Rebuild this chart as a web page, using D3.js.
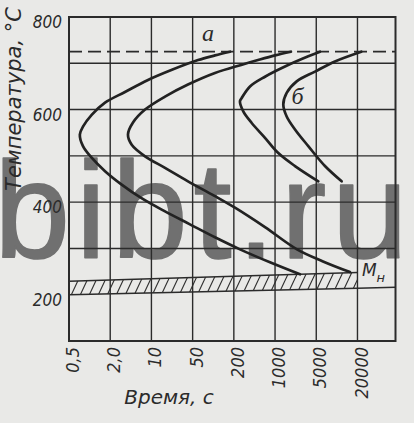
<!DOCTYPE html>
<html><head><meta charset="utf-8">
<script src="https://cdn.jsdelivr.net/npm/d3@7"></script>
<style>
html,body{margin:0;padding:0;background:#e9e9e7;}
svg{display:block;}
</style></head><body>
<svg id="chart" width="414" height="423"></svg>
<script>
// ---- data ----
const timeTicks = [0.5, 2, 10, 50, 200, 1000, 5000, 20000];
const timeTickLabels = ["0,5", "2,0", "10", "50", "200", "1000", "5000", "20000"];
const timeEnd = 80000;
const tempDomain = [100, 800];
const tempTickValues = [800, 600, 400, 200];
const tempGridValues = [700, 600, 500, 400, 300];
const a1Temp = 725;
// isothermal transformation curves: [time, temperature]
const curveA1 = [[176,725],[106,717],[60,707],[22.3,686],[8.75,664],[3.56,638],[1.68,615],[1.08,589],[0.80,563],[0.72,546],[0.80,521],[1.07,496],[1.68,467],[3.13,438],[6.9,408],[17,380],[45,352],[106,324],[254,298],[820,270],[2650,244]];
const curveA2 = [[1860,725],[997,717],[514,707],[275,697],[106,679],[41.7,654],[17,628],[7.8,600],[4.87,572],[4.0,546],[4.63,524],[7.8,499],[17,474],[41.7,445],[106,413],[209,388],[675,346],[2354,298],[6270,272],[15540,249]];
const curveB1 = [[5665,725],[3660,715],[1474,693],[675,671],[376,650],[272,625],[254,618],[289,596],[402,571],[675,539],[1134,506],[2179,478],[5352,445]];
const curveB2 = [[23000,725],[9380,704],[4757,682],[2328,661],[1575,636],[1380,611],[1575,585],[2179,557],[3660,521],[6700,478],[11745,445]];
// martensite start band (Mн)
const msTop = [[0.5, 229], [20000, 248]];
const msBottom = [[0.5, 200], [20000, 214], [80000, 216]];
// labels
const curveLabels = ["а", "б"];
const curveLabelTimes = [84, 2400];
const curveLabelTemps = [748, 611];
const msLabel = ["М", "н"];
const msLabelTime = 23500;
const msLabelTemp = 240;
const xTitle = "Время, с";
const yTitle = "Температура, °С";
const watermark = "bibt.ru";

// ---- layout ----
const svg = d3.select("#chart");
const plotLeft = 69, plotStep = 41.21, plotRight = 395.5, plotTop = 17, plotBottom = 341;
const x = d3.scaleLog()
  .domain([...timeTicks, timeEnd])
  .range([...timeTicks.map((d, i) => plotLeft + i * plotStep), plotRight]);
const y = d3.scaleLinear().domain(tempDomain).range([plotBottom, plotTop]);

const ink = "#2b2b2b";
const numFont = "'DejaVu Sans Condensed','DejaVu Sans',sans-serif";

// watermark (under everything)
svg.append("text")
  .attr("x", -6).attr("y", 258)
  .attr("textLength", 414).attr("lengthAdjust", "spacing")
  .attr("font-family", "'Liberation Sans',Arial,sans-serif")
  .attr("font-size", 137)
  .attr("fill", "#707070")
  .attr("stroke", "#707070").attr("stroke-width", 1.5).attr("stroke-linejoin", "round")
  .text(watermark);

const g = svg.append("g");

// grid
g.selectAll("line.vg").data(timeTicks.slice(1)).join("line")
  .attr("x1", d => x(d)).attr("x2", d => x(d))
  .attr("y1", y(800)).attr("y2", y(100))
  .attr("stroke", ink).attr("stroke-width", 1.4);
g.selectAll("line.hg").data(tempGridValues).join("line")
  .attr("x1", x(0.5)).attr("x2", x(timeEnd))
  .attr("y1", d => y(d)).attr("y2", d => y(d))
  .attr("stroke", ink).attr("stroke-width", 1.4);

// Mн band with hatching
const bandPoly = [...msTop.map(d => [x(d[0]), y(d[1])]),
  ...msBottom.filter(d => d[0] <= 20000).reverse().map(d => [x(d[0]), y(d[1])])];
const defs = svg.append("defs");
defs.append("clipPath").attr("id", "bandClip")
  .append("polygon").attr("points", bandPoly.map(p => p.join(",")).join(" "));
const hatchX = d3.range(x(0.5) - 20, x(20000) + 20, 9);
g.append("g").attr("clip-path", "url(#bandClip)")
  .selectAll("line").data(hatchX).join("line")
  .attr("x1", d => d).attr("y1", y(180))
  .attr("x2", d => d + 0.47 * (y(180) - y(270))).attr("y2", y(270))
  .attr("stroke", ink).attr("stroke-width", 1.1);
const lineGen = d3.line().x(d => x(d[0])).y(d => y(d[1]));
g.append("path").attr("d", lineGen(msTop)).attr("fill", "none")
  .attr("stroke", ink).attr("stroke-width", 1.5);
g.append("path").attr("d", lineGen(msBottom)).attr("fill", "none")
  .attr("stroke", ink).attr("stroke-width", 1.5);

// A1 dashed line
g.append("line")
  .attr("x1", x(0.5)).attr("x2", x(timeEnd))
  .attr("y1", y(a1Temp)).attr("y2", y(a1Temp))
  .attr("stroke", ink).attr("stroke-width", 1.8)
  .attr("stroke-dasharray", "13,6");

// border
g.append("rect")
  .attr("x", x(0.5)).attr("y", y(800))
  .attr("width", x(timeEnd) - x(0.5)).attr("height", y(100) - y(800))
  .attr("fill", "none").attr("stroke", ink).attr("stroke-width", 2);

// curves
const curveGen = d3.line().x(d => x(d[0])).y(d => y(d[1]))
  .curve(d3.curveCatmullRom.alpha(0.5));
g.selectAll("path.c").data([curveA1, curveA2, curveB1, curveB2]).join("path")
  .attr("class", "c")
  .attr("d", d => curveGen(d))
  .attr("fill", "none").attr("stroke", "#222").attr("stroke-width", 2.7)
  .attr("stroke-linecap", "round").attr("stroke-linejoin", "round");

// y axis labels
const yAxis = g.append("g").attr("transform", `translate(${plotLeft},0)`)
  .call(d3.axisLeft(y).tickValues(tempTickValues).tickSize(0).tickPadding(7));
yAxis.select(".domain").remove();
yAxis.selectAll("text")
  .attr("dy", "0.62em")
  .attr("font-family", numFont).attr("font-stretch", "condensed")
  .attr("font-style", "italic").attr("font-size", 17).attr("fill", ink);

// x axis labels
const xAxis = g.append("g").attr("transform", `translate(0,${plotBottom})`)
  .call(d3.axisBottom(x).tickValues(timeTicks)
    .tickFormat((d, i) => timeTickLabels[i]).tickSize(0));
xAxis.select(".domain").remove();
xAxis.selectAll("text")
  .attr("transform", "rotate(-90)")
  .attr("text-anchor", "end")
  .attr("x", -6).attr("y", 0).attr("dy", "0.53em")
  .attr("font-family", numFont).attr("font-stretch", "condensed")
  .attr("font-style", "italic").attr("font-size", 18).attr("fill", ink);

// axis titles
svg.append("text")
  .attr("x", 169).attr("y", 404).attr("text-anchor", "middle")
  .attr("font-family", "'DejaVu Sans',sans-serif").attr("font-style", "italic")
  .attr("font-size", 20).attr("fill", ink)
  .text(xTitle);
svg.append("text")
  .attr("transform", "translate(21,99) rotate(-90)").attr("text-anchor", "middle")
  .attr("font-family", "'DejaVu Sans',sans-serif").attr("font-style", "italic")
  .attr("font-size", 21).attr("fill", ink)
  .text(yTitle);

// curve labels
g.selectAll("text.cl").data(curveLabels).join("text")
  .attr("class", "cl")
  .attr("x", (d, i) => x(curveLabelTimes[i]))
  .attr("y", (d, i) => y(curveLabelTemps[i]))
  .attr("text-anchor", "middle")
  .attr("font-family", "'Liberation Serif',serif").attr("font-style", "italic")
  .attr("font-size", 24).attr("fill", ink)
  .text(d => d);

// Mн label
const ms = g.append("text")
  .attr("x", x(msLabelTime)).attr("y", y(msLabelTemp))
  .attr("font-family", "'DejaVu Sans',sans-serif").attr("font-style", "italic")
  .attr("font-size", 17).attr("fill", ink);
ms.append("tspan").text(msLabel[0]);
ms.append("tspan").attr("dy", 6).attr("font-size", 13).text(msLabel[1]);
</script>
</body></html>
